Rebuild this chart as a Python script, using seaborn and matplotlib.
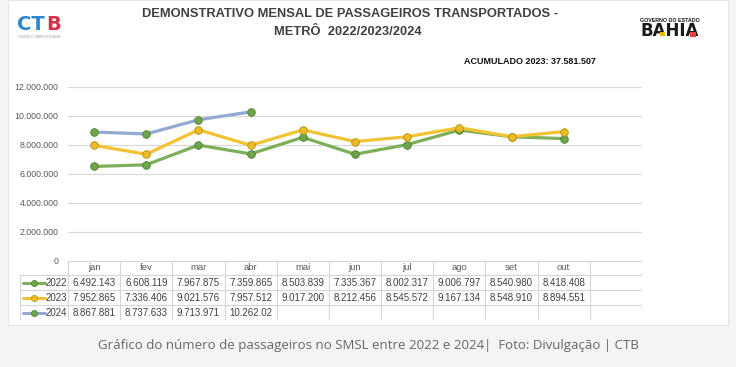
import matplotlib
matplotlib.use("Agg")
import matplotlib.pyplot as plt
from matplotlib.patches import Rectangle
from matplotlib.lines import Line2D
import seaborn as sns
import pandas as pd
import numpy as np

# ---------------- data ----------------
months = ["jan", "fev", "mar", "abr", "mai", "jun", "jul", "ago", "set", "out", ""]
years = ["2022", "2023", "2024"]
v2022 = [6492143, 6608119, 7967875, 7359865, 8503839, 7335367, 8002317, 9006797, 8540980, 8418408]
v2023 = [7952865, 7336406, 9021576, 7957512, 9017200, 8212456, 8545572, 9167134, 8548910, 8894551]
v2024 = [8867881, 8737633, 9713971, 10262020]
yticks = [0, 2000000, 4000000, 6000000, 8000000, 10000000, 12000000]
title_lines = ["DEMONSTRATIVO MENSAL DE PASSAGEIROS TRANSPORTADOS -", "METRÔ  2022/2023/2024"]
acumulado = "ACUMULADO 2023: 37.581.507"
caption = "Gráfico do número de passageiros no SMSL entre 2022 e 2024|  Foto: Divulgação | CTB"

series = {"2022": v2022, "2023": v2023, "2024": v2024}
line_colors = {"2022": "#7dae58", "2023": "#f2c233", "2024": "#93a9d3"}
marker_colors = {"2022": "#6ea44a", "2023": "#eabb22", "2024": "#6ea44a"}
marker_edges = {"2022": "#4e8030", "2023": "#b88f10", "2024": "#4e8030"}

rows = []
for y, vals in series.items():
    for i, v in enumerate(vals):
        rows.append({"year": y, "idx": i, "month": months[i], "value": v})
df = pd.DataFrame(rows)

def fmt(v):
    return f"{v:,.0f}".replace(",", ".")

# ---------------- figure ----------------
sns.set_theme(style="white")
plt.rcParams["font.family"] = ["Liberation Sans", "DejaVu Sans"]

W, H = 736, 367
fig = plt.figure(figsize=(W / 100, H / 100), dpi=100, facecolor="#f4f4f4")
fig.patches.append(Rectangle((8 / W, 1 - 325 / H), 720 / W, 325 / H,
                             transform=fig.transFigure, facecolor="white",
                             edgecolor="#e6e6e6", lw=0.8, zorder=-5))

def fx(px):
    return px / W

def fy(py):
    return 1 - py / H

# main plot axes
ax_left, ax_right = 68, 642
ax_top, ax_bot = 86.7, 260.5
ax = fig.add_axes([fx(ax_left), fy(ax_bot), fx(ax_right - ax_left), (ax_bot - ax_top) / H])
ax.set_facecolor("none")

for y in years:
    sub = df[df["year"] == y]
    sns.lineplot(data=sub, x="idx", y="value", ax=ax, color=line_colors[y], lw=2.3,
                 marker="o", markersize=5.5, markerfacecolor=marker_colors[y],
                 markeredgecolor=marker_edges[y], markeredgewidth=0.6,
                 legend=False, zorder=3)

ax.set_xlim(-0.5, len(months) - 0.5)
ax.set_ylim(0, 12000000)
ax.set_yticks(yticks)
ax.set_yticklabels([fmt(t) for t in yticks], fontsize=6.3, color="#595959",
                   family=["Liberation Sans"])
ax.tick_params(axis="y", length=0, pad=7)
ax.set_xticks([])
ax.set_xlabel("")
ax.set_ylabel("")
ax.yaxis.grid(True, color="#d9d9d9", lw=0.9)
for s in ax.spines.values():
    s.set_visible(False)

# ---------------- data table ----------------
col_w_px = (ax_right - ax_left) / len(months)
leg_w = (ax_left - 20) / col_w_px
tab_top, tab_bot = 260.5, 320
tax = fig.add_axes([fx(20), fy(tab_bot), fx(ax_right - 20), (tab_bot - tab_top) / H])
tax.set_xlim(-0.5 - leg_w, len(months) - 0.5)
tax.set_ylim(4, 0)
tax.axis("off")
gc = "#d6d6d6"
n = len(months)
tax.plot([-0.5, n - 0.5], [0, 0], color=gc, lw=0.8)
for r in [1, 2, 3, 4]:
    tax.plot([-0.5 - leg_w, n - 0.5], [r, r], color=gc, lw=0.8)
tax.plot([-0.5 - leg_w, -0.5 - leg_w], [1, 4], color=gc, lw=0.8)
for c in range(n + 1):
    tax.plot([c - 0.5, c - 0.5], [0, 4], color=gc, lw=0.8)

tcol = "#404040"
for i, m in enumerate(months):
    tax.text(i, 0.5, m, ha="center", va="center", fontsize=6.8, color="#595959")
for r, y in enumerate(years, start=1):
    for i, v in enumerate(series[y]):
        tax.text(i, r + 0.5, fmt(v)[:9], ha="center", va="center", fontsize=7, color=tcol)
    x0 = -0.5 - leg_w + 0.06
    x1 = x0 + 0.42
    tax.add_line(Line2D([x0, x1], [r + 0.5, r + 0.5], color=line_colors[y], lw=2.2))
    tax.plot([(x0 + x1) / 2], [r + 0.5], marker="o", markersize=4.5,
             markerfacecolor=marker_colors[y], markeredgecolor=marker_edges[y],
             markeredgewidth=0.5)
    tax.text(x1 + 0.01, r + 0.5, y, ha="left", va="center", fontsize=7, color=tcol)

# ---------------- texts ----------------
fig.text(fx(350), fy(14), title_lines[0], ha="center", va="center", fontsize=9.3,
         fontweight="bold", color="#404040")
fig.text(fx(348), fy(32), title_lines[1], ha="center", va="center", fontsize=9.3,
         fontweight="bold", color="#404040")
fig.text(fx(530), fy(62), acumulado, ha="center", va="center", fontsize=6.5,
         fontweight="bold", color="#111111")
fig.text(fx(368), fy(345), caption, ha="center", va="center", fontsize=9.5,
         color="#666666", family=["Open Sans", "DejaVu Sans"])

# CTB logo
fig.text(fx(17), fy(24), "CT", ha="left", va="center", fontsize=14, fontweight="bold",
         color="#2a86cf", family=["DejaVu Sans"])
fig.text(fx(46), fy(24), "B", ha="left", va="center", fontsize=14, fontweight="bold",
         color="#d2334a", family=["DejaVu Sans"])
fig.text(fx(39), fy(37), "CONSÓRCIO TRANSPORTE BAHIA", ha="center", va="center",
         fontsize=1.8, color="#999999")

# Bahia logo
fig.text(fx(670), fy(20), "GOVERNO DO ESTADO", ha="center", va="center", fontsize=3.8,
         fontweight="bold", color="#111111")
fig.text(fx(670), fy(31), "BAHIA", ha="center", va="center", fontsize=12,
         fontweight="heavy", color="#1a1a1a", family=["DejaVu Sans"])
fig.patches.append(Rectangle((fx(660), fy(36)), fx(5), 4 / H, transform=fig.transFigure,
                             facecolor="#f5b400", edgecolor="none", zorder=5))
fig.patches.append(Rectangle((fx(690), fy(37)), fx(6), 5 / H, transform=fig.transFigure,
                             facecolor="#e8413c", edgecolor="none", zorder=5))

fig.savefig("out.png", dpi=100, facecolor=fig.get_facecolor())
